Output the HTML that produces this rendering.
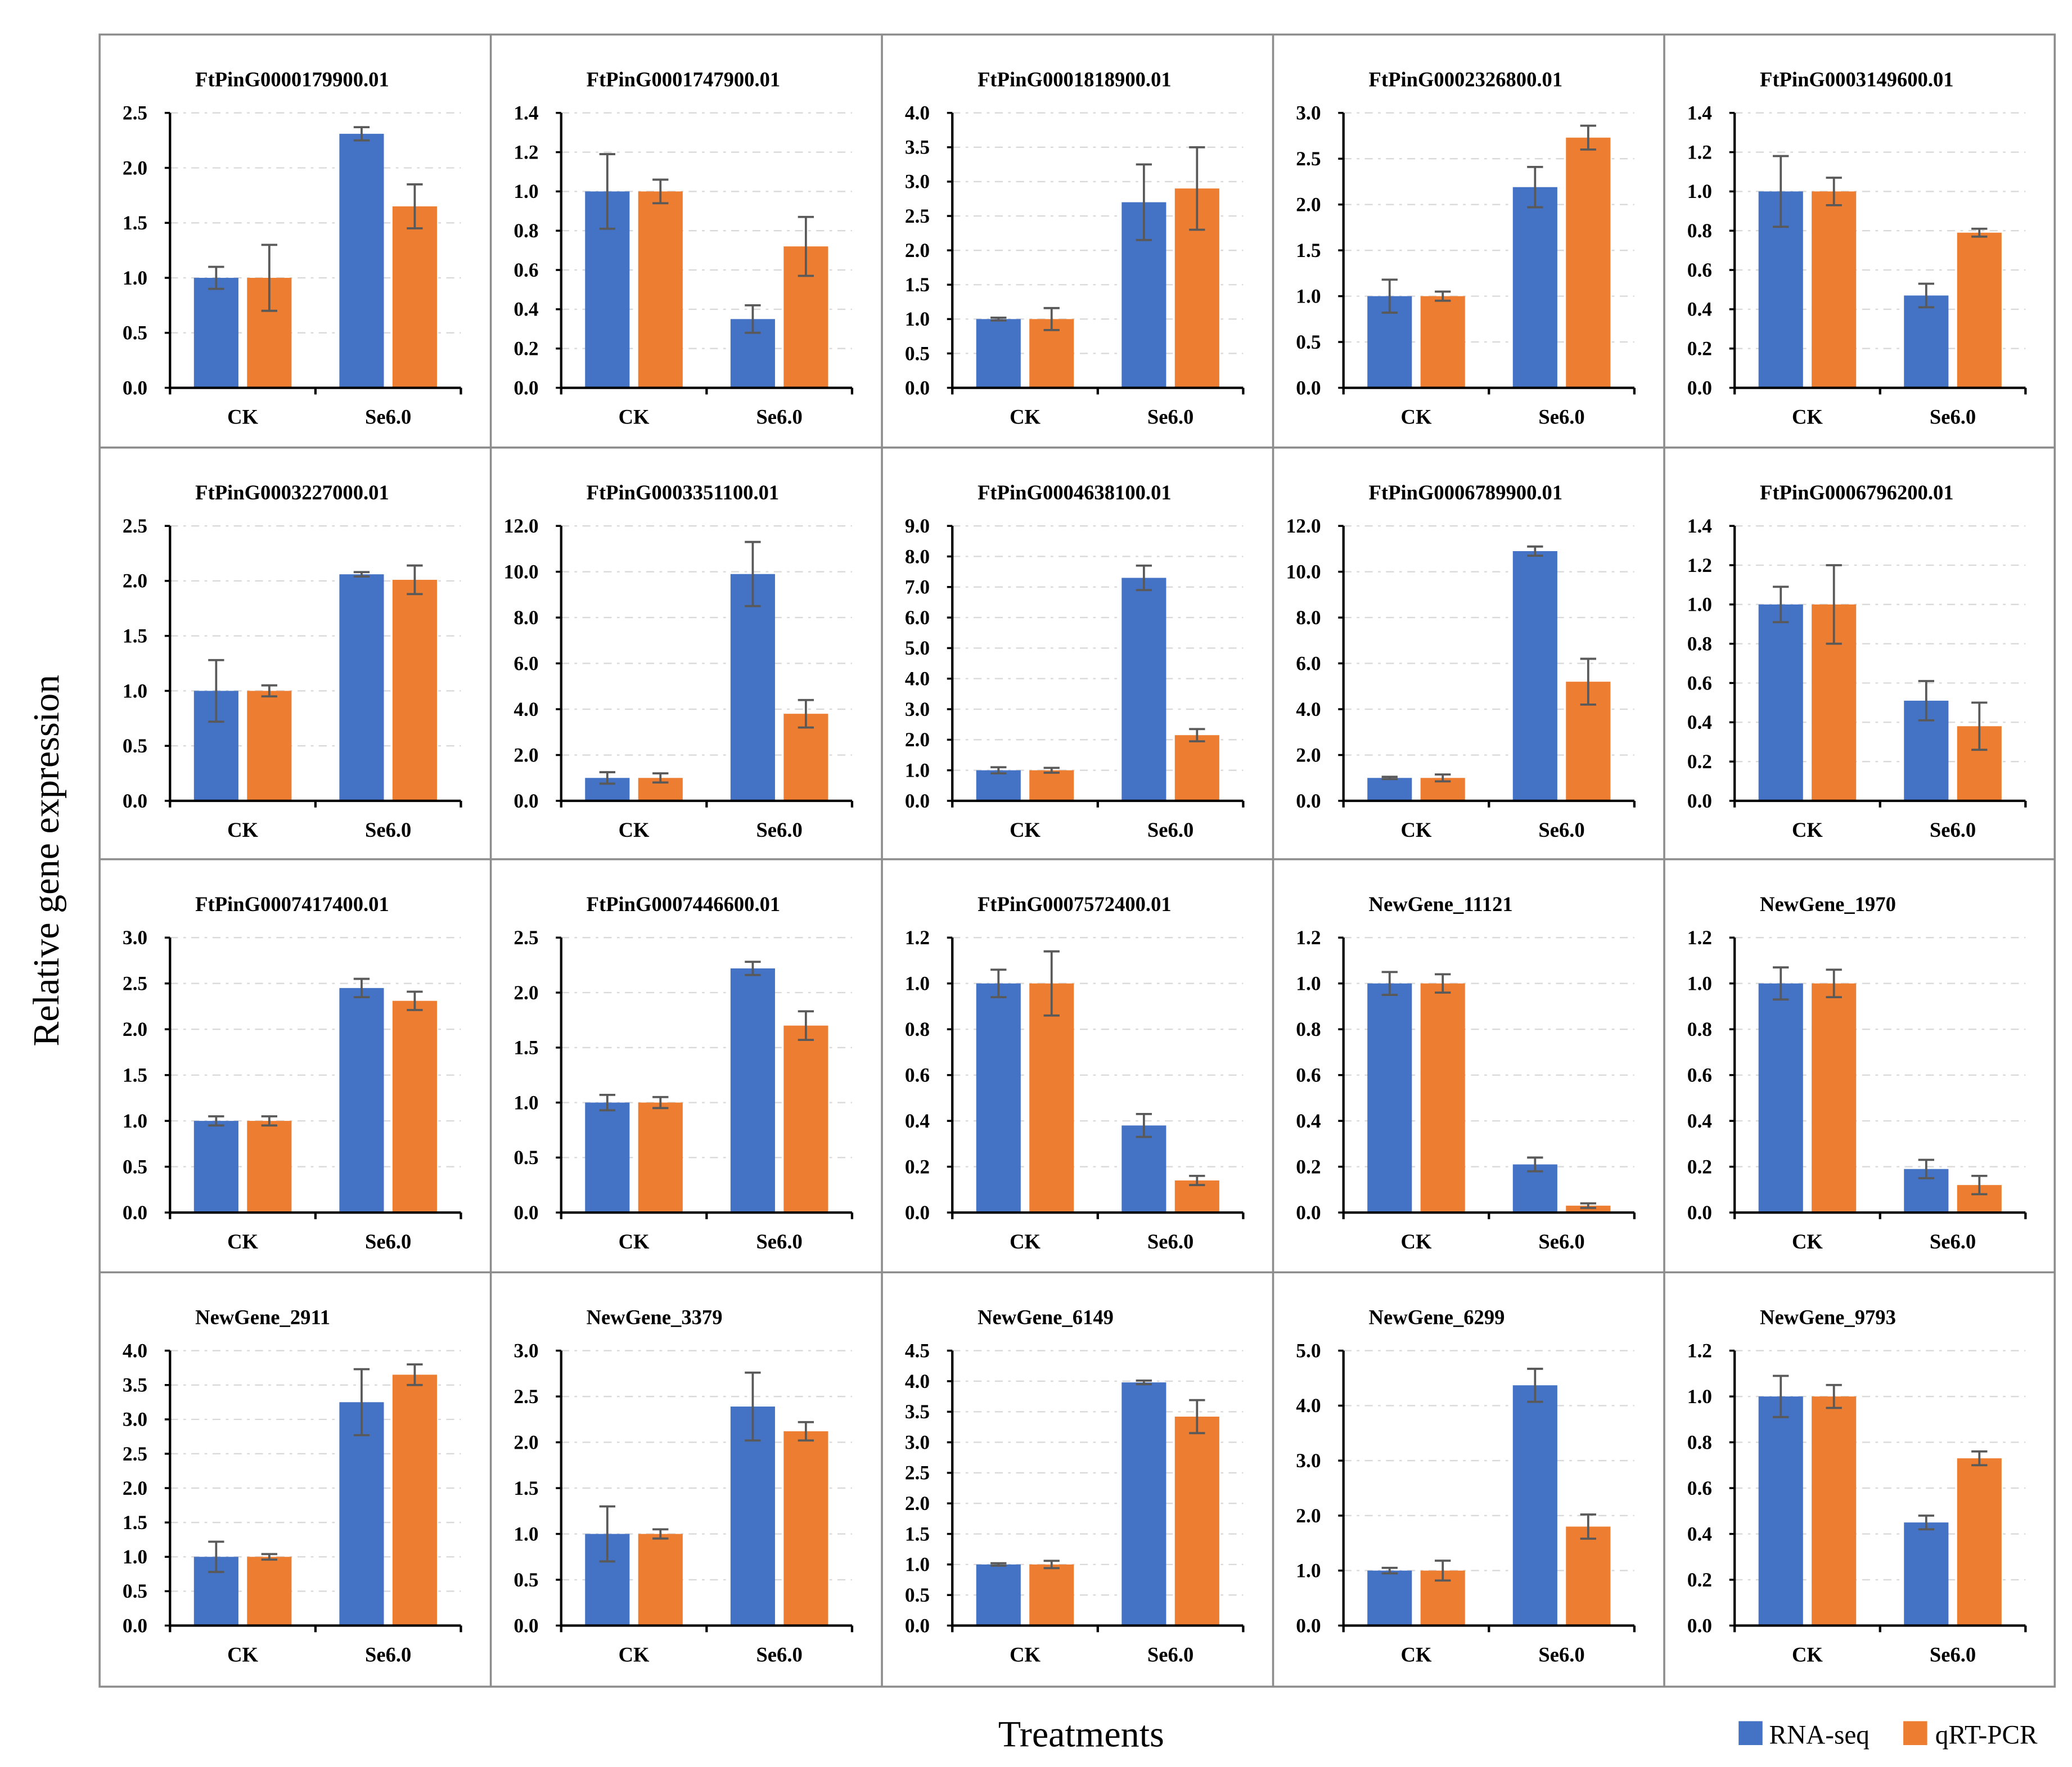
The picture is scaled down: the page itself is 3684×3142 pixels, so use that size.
<!DOCTYPE html>
<html><head><meta charset="utf-8">
<style>
html,body{margin:0;padding:0;background:#fff;}
svg{display:block;}
text{font-family:"Liberation Serif",serif;}
</style></head>
<body>
<svg id="chart" width="3684" height="3142" viewBox="0 0 1560 1330.5" xmlns="http://www.w3.org/2000/svg">
<rect x="0" y="0" width="1560" height="1330.5" fill="#fff"/>
<g id="panels"></g>
<text x="44" y="648" transform="rotate(-90 44 648)" text-anchor="middle" font-size="28">Relative gene expression</text>
<text x="814" y="1315" text-anchor="middle" font-size="28">Treatments</text>
<g>
<rect x="1309" y="1296" width="18" height="18" fill="#4472C4"/>
<text x="1332" y="1313" font-size="20">RNA-seq</text>
<rect x="1433" y="1296" width="18" height="18" fill="#ED7D31"/>
<text x="1457" y="1313" font-size="20">qRT-PCR</text>
</g>
</svg>
<script>
const titles=["FtPinG0000179900.01","FtPinG0001747900.01","FtPinG0001818900.01","FtPinG0002326800.01","FtPinG0003149600.01",
"FtPinG0003227000.01","FtPinG0003351100.01","FtPinG0004638100.01","FtPinG0006789900.01","FtPinG0006796200.01",
"FtPinG0007417400.01","FtPinG0007446600.01","FtPinG0007572400.01","NewGene_11121","NewGene_1970",
"NewGene_2911","NewGene_3379","NewGene_6149","NewGene_6299","NewGene_9793"];
const categories=["CK","Se6.0"];
const axisMax=[2.5,1.4,4,3,1.4, 2.5,12,9,12,1.4, 3,2.5,1.2,1.2,1.2, 4,3,4.5,5,1.2];
const axisStep=[0.5,0.2,0.5,0.5,0.2, 0.5,2,1,2,0.2, 0.5,0.5,0.2,0.2,0.2, 0.5,0.5,0.5,1,0.2];
const rnaSeq=[[1,2.31],[1,0.35],[1,2.7],[1,2.19],[1,0.47],
[1,2.06],[1,9.9],[1,7.3],[1,10.9],[1,0.51],
[1,2.45],[1,2.22],[1,0.38],[1,0.21],[1,0.19],
[1,3.25],[1,2.39],[1,3.98],[1,4.37],[1,0.45]];
const rnaSeqErr=[[0.1,0.06],[0.19,0.07],[0.02,0.55],[0.18,0.22],[0.18,0.06],
[0.28,0.02],[0.25,1.4],[0.1,0.4],[0.05,0.2],[0.09,0.1],
[0.05,0.1],[0.07,0.06],[0.06,0.05],[0.05,0.03],[0.07,0.04],
[0.22,0.48],[0.3,0.37],[0.02,0.03],[0.05,0.3],[0.09,0.03]];
const qpcr=[[1,1.65],[1,0.72],[1,2.9],[1,2.73],[1,0.79],
[1,2.01],[1,3.8],[1,2.15],[1,5.2],[1,0.38],
[1,2.31],[1,1.7],[1,0.14],[1,0.03],[1,0.12],
[1,3.65],[1,2.12],[1,3.42],[1,1.8],[1,0.73]];
const qpcrErr=[[0.3,0.2],[0.06,0.15],[0.16,0.6],[0.05,0.13],[0.07,0.02],
[0.05,0.13],[0.2,0.6],[0.08,0.2],[0.15,1.0],[0.2,0.12],
[0.05,0.1],[0.05,0.13],[0.14,0.02],[0.04,0.01],[0.06,0.04],
[0.04,0.15],[0.05,0.1],[0.06,0.27],[0.18,0.22],[0.05,0.03]];

const NS="http://www.w3.org/2000/svg";
const root=document.getElementById('panels');
function mk(tag,attrs,parent){const e=document.createElementNS(NS,tag);for(const k in attrs)e.setAttribute(k,attrs[k]);(parent||root).appendChild(e);return e;}
const colX=[75,369.5,664,958.5,1253,1547];
const rowY=[26,337,647,958,1270];
mk('rect',{x:75,y:26,width:1472,height:1244,fill:'none',stroke:'#8c8c8c','stroke-width':1.5});
for(let i=1;i<5;i++){const l=mk('line',{x1:colX[i],y1:26,x2:colX[i],y2:1270,stroke:'#8c8c8c','stroke-width':1.5});}
for(let i=1;i<4;i++){const l=mk('line',{x1:75,y1:rowY[i],x2:1547,y2:rowY[i],stroke:'#8c8c8c','stroke-width':1.5});}

titles.forEach((t,i)=>{
  const px=colX[i%5], py=rowY[Math.floor(i/5)];
  const g=mk('g',{});
  
  
  const x0=px+53, x1=px+272, yTop=py+59, yBot=py+266;
  const max=axisMax[i], step=axisStep[i];
  const ys=v=>yBot-(v/max)*(yBot-yTop);
  const dec=step>=1||max>=9?1:1;
  const tt=mk('text',{x:px+72,y:py+39,'font-size':15.5,'font-weight':'bold'},g);
  tt.textContent=t;
  
  
  const n=Math.round(max/step);
  for(let k=0;k<=n;k++){
    const v=k*step, y=ys(v);
    if(k>0){const gl=mk('line',{x1:x0,y1:y,x2:x1,y2:y,stroke:'#d9d9d9','stroke-width':1,'stroke-dasharray':'6 4 2 4'},g);
      }
    mk('line',{x1:x0-4,y1:y,x2:x0,y2:y,stroke:'#000','stroke-width':1.5},g);
    const tl=mk('text',{x:px+36,y:y+5,'text-anchor':'end','font-size':15,'font-weight':'bold'},g);
    tl.textContent=v.toFixed(dec);
    
    
  }
  const groupW=(x1-x0)/2;
  categories.forEach((c,j)=>{
    const gx=x0+groupW*j;
    const series=[[rnaSeq[i][j],rnaSeqErr[i][j],'#4472C4',gx+18],[qpcr[i][j],qpcrErr[i][j],'#ED7D31',gx+58]];
    series.forEach((s,si)=>{
      const b=mk('rect',{x:s[3],y:ys(s[0]),width:33.5,height:yBot-ys(s[0]),fill:s[2]},g);
      
      
      const cx=s[3]+16.75, ya=ys(s[0]+s[1]), yb=ys(Math.max(0,s[0]-s[1]));
      const eb=mk('path',{d:`M${cx},${ya}V${yb}M${cx-6},${ya}H${cx+6}M${cx-6},${yb}H${cx+6}`,stroke:'#595959','stroke-width':1.6,fill:'none'},g);
      
      
    });
    const cl=mk('text',{x:gx+groupW/2,y:yBot+27,'text-anchor':'middle','font-size':15.5,'font-weight':'bold'},g);
    cl.textContent=c;
    
    
  });
  mk('line',{x1:x0,y1:yTop,x2:x0,y2:yBot+1,stroke:'#000','stroke-width':1.8},g);
  mk('line',{x1:x0,y1:yBot,x2:x1,y2:yBot,stroke:'#000','stroke-width':1.8},g);
  [x0,x0+groupW,x1].forEach(x=>mk('line',{x1:x,y1:yBot,x2:x,y2:yBot+5,stroke:'#000','stroke-width':1.8},g));
});
</script>
</body></html>
